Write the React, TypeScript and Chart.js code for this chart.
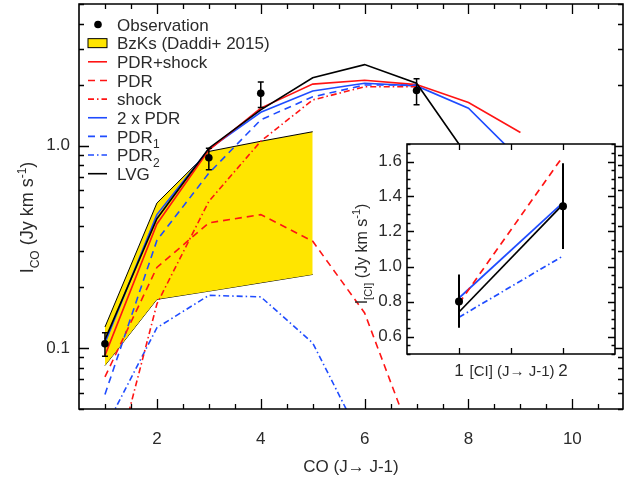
import { useEffect, useRef } from "react";
import { Chart, registerables } from "chart.js";

Chart.register(...registerables);

const FONT = '"Liberation Sans", Arial, Helvetica, sans-serif';
const TEXT = "#2b2b2b";
const RED = "#ff1414";
const BLUE = "#1f4cff";
const YELLOW = "#ffe500";
const FS = 17;

// ---------- main panel data (CO ladder) ----------
const coLevels = [1, 2, 3, 4, 5, 6, 7, 8, 9];
const obsJ = [1, 3, 4, 7];
const obsFlux = [0.105, 0.87, 1.81, 1.87];
const obsLow = [0.091, 0.76, 1.54, 1.59];
const obsHigh = [0.119, 0.97, 2.06, 2.14];

const bzkJ = [1, 2, 3, 4, 5];
const bzkUpper = [0.127, 0.52, 0.935, 1.05, 1.17];
const bzkLower = [0.082, 0.174, 0.191, 0.21, 0.231];

const pdrShockFlux = [0.092, 0.41, 0.95, 1.53, 2.01, 2.1, 2.0, 1.63, 1.16];
const pdrFlux = [0.072, 0.25, 0.415, 0.456, 0.337, 0.149, 0.031];
const shockFlux = [0.017, 0.165, 0.53, 1.05, 1.68, 1.95, 1.95];
const twoPdrFlux = [0.106, 0.456, 0.96, 1.46, 1.86, 2.03, 1.97, 1.53, 0.85];
const pdr1Flux = [0.059, 0.34, 0.73, 1.34, 1.74, 1.99, 1.99];
const pdr2Flux = [0.04, 0.126, 0.182, 0.179, 0.106, 0.033];
const lvgFlux = [0.11, 0.435, 0.97, 1.5, 2.16, 2.51, 2.03, 0.87];

const xTickLabels = [2, 4, 6, 8, 10];
const yTickLabels = [0.1, 1.0];

// ---------- inset data ([CI]) ----------
const ciLevels = [1, 2];
const ciObs = [0.8, 1.345];
const ciLow = [0.65, 1.1];
const ciHigh = [0.955, 1.59];
const ciPdr = [0.79, 1.63];
const ciTwoPdr = [0.82, 1.365];
const ciLvg = [0.74, 1.355];
const ciPdr2 = [0.71, 1.06];
const ciXTicks = [1, 2];
const ciYTicks = [0.6, 0.8, 1.0, 1.2, 1.4, 1.6];

const DASH = [7, 5];
const DASHDOT = [6, 3, 1.5, 3];

type Part = { t: string; sub?: boolean; sup?: boolean };

function drawRich(
  ctx: CanvasRenderingContext2D,
  parts: Part[],
  x: number,
  y: number,
  size: number,
  align: "left" | "center",
  rot = 0
) {
  ctx.save();
  ctx.translate(x, y);
  if (rot) ctx.rotate(rot);
  const sm = Math.round(size * 0.68);
  const widths = parts.map((p) => {
    ctx.font = `${p.sub || p.sup ? sm : size}px ${FONT}`;
    return ctx.measureText(p.t).width;
  });
  const total = widths.reduce((a, b) => a + b, 0);
  let cx = align === "center" ? -total / 2 : 0;
  ctx.fillStyle = TEXT;
  ctx.textAlign = "left";
  ctx.textBaseline = "alphabetic";
  const base = size * 0.36;
  parts.forEach((p, i) => {
    ctx.font = `${p.sub || p.sup ? sm : size}px ${FONT}`;
    const dy = p.sub ? size * 0.32 : p.sup ? -size * 0.4 : 0;
    ctx.fillText(p.t, cx, base + dy);
    cx += widths[i];
  });
  ctx.restore();
}

const pts = (xs: number[], ys: number[]) => ys.map((y, i) => ({ x: xs[i], y }));

const lineDs = (label: string, xs: number[], ys: number[], color: string, dash: number[], width = 1.6) => ({
  label,
  data: pts(xs, ys),
  borderColor: color,
  borderWidth: width,
  borderDash: dash,
  pointRadius: 0,
  fill: false,
  tension: 0,
  order: 1,
});

type LegendRow = { kind: "dot" | "box" | "line"; color?: string; dash?: number[]; label: Part[] };
const legendRows: LegendRow[] = [
  { kind: "dot", label: [{ t: "Observation" }] },
  { kind: "box", label: [{ t: "BzKs (Daddi+ 2015)" }] },
  { kind: "line", color: RED, dash: [], label: [{ t: "PDR+shock" }] },
  { kind: "line", color: RED, dash: DASH, label: [{ t: "PDR" }] },
  { kind: "line", color: RED, dash: DASHDOT, label: [{ t: "shock" }] },
  { kind: "line", color: BLUE, dash: [], label: [{ t: "2 x PDR" }] },
  { kind: "line", color: BLUE, dash: DASH, label: [{ t: "PDR" }, { t: "1", sub: true }] },
  { kind: "line", color: BLUE, dash: DASHDOT, label: [{ t: "PDR" }, { t: "2", sub: true }] },
  { kind: "line", color: "#000", dash: [], label: [{ t: "LVG" }] },
];

function drawFrameTicks(
  ctx: CanvasRenderingContext2D,
  area: { left: number; right: number; top: number; bottom: number },
  xs: { v: number; len: number }[],
  ys: { v: number; len: number }[],
  xScale: any,
  yScale: any,
  lw: number
) {
  ctx.save();
  ctx.strokeStyle = "#000";
  ctx.lineWidth = lw;
  ctx.setLineDash([]);
  ctx.beginPath();
  ctx.rect(area.left, area.top, area.right - area.left, area.bottom - area.top);
  ctx.stroke();
  ctx.lineWidth = 1.3;
  ctx.beginPath();
  xs.forEach(({ v, len }) => {
    const px = Math.round(xScale.getPixelForValue(v)) + 0.5;
    ctx.moveTo(px, area.bottom);
    ctx.lineTo(px, area.bottom - len);
    ctx.moveTo(px, area.top);
    ctx.lineTo(px, area.top + len);
  });
  ys.forEach(({ v, len }) => {
    const py = Math.round(yScale.getPixelForValue(v)) + 0.5;
    ctx.moveTo(area.left, py);
    ctx.lineTo(area.left + len, py);
    ctx.moveTo(area.right, py);
    ctx.lineTo(area.right - len, py);
  });
  ctx.stroke();
  ctx.restore();
}

const zeroPad = (s: any) => {
  s.paddingTop = 0;
  s.paddingBottom = 0;
  s.paddingLeft = 0;
  s.paddingRight = 0;
};

export default function App() {
  const mainRef = useRef<HTMLCanvasElement>(null);
  const insetRef = useRef<HTMLCanvasElement>(null);

  useEffect(() => {
    if (!mainRef.current || !insetRef.current) return;

    const mainPlugin = {
      id: "mainDeco",
      afterDatasetsDraw(chart: any) {
        const ctx: CanvasRenderingContext2D = chart.ctx;
        const xs = chart.scales.x;
        const ys = chart.scales.y;
        ctx.save();
        ctx.strokeStyle = "#000";
        ctx.lineWidth = 1.5;
        ctx.setLineDash([]);
        obsJ.forEach((j, i) => {
          const px = xs.getPixelForValue(j);
          const hi = ys.getPixelForValue(obsHigh[i]);
          const lo = ys.getPixelForValue(obsLow[i]);
          ctx.beginPath();
          ctx.moveTo(px, hi);
          ctx.lineTo(px, lo);
          ctx.moveTo(px - 3, hi);
          ctx.lineTo(px + 3, hi);
          ctx.moveTo(px - 3, lo);
          ctx.lineTo(px + 3, lo);
          ctx.stroke();
        });
        ctx.restore();
      },
      afterDraw(chart: any) {
        const ctx: CanvasRenderingContext2D = chart.ctx;
        const a = chart.chartArea;
        const xs = chart.scales.x;
        const ys = chart.scales.y;
        const xt: { v: number; len: number }[] = [];
        for (let v = 1; v <= 10.5; v += 0.5) xt.push({ v, len: v % 2 === 0 ? 10 : 5 });
        const yt: { v: number; len: number }[] = [];
        [0.01, 0.1, 1].forEach((dec) => {
          for (let m = 1; m <= 9; m++) {
            const v = dec * m;
            if (v >= 0.05 && v <= 5.0001) yt.push({ v, len: m === 1 ? 10 : 5 });
          }
        });
        drawFrameTicks(ctx, a, xt, yt, xs, ys, 1.6);

        // legend
        const lx = a.left + 9;
        const tx = a.left + 38;
        const y0 = a.top + 20.5;
        const dy = 18.65;
        legendRows.forEach((row, i) => {
          const y = y0 + i * dy;
          ctx.save();
          if (row.kind === "dot") {
            ctx.fillStyle = "#000";
            ctx.beginPath();
            ctx.arc(lx + 10, y, 3.8, 0, Math.PI * 2);
            ctx.fill();
          } else if (row.kind === "box") {
            ctx.fillStyle = YELLOW;
            ctx.strokeStyle = "#000";
            ctx.lineWidth = 1;
            ctx.fillRect(lx, y - 4.5, 19, 9);
            ctx.strokeRect(lx, y - 4.5, 19, 9);
          } else {
            ctx.strokeStyle = row.color!;
            ctx.lineWidth = 1.6;
            ctx.setLineDash(row.dash!);
            ctx.beginPath();
            ctx.moveTo(lx, y);
            ctx.lineTo(lx + 19, y);
            ctx.stroke();
          }
          ctx.restore();
          drawRich(ctx, row.label, tx, y, FS, "left");
        });

        // axis titles
        drawRich(
          ctx,
          [{ t: "I" }, { t: "CO", sub: true }, { t: " (Jy km s" }, { t: "-1", sup: true }, { t: ")" }],
          27,
          (a.top + a.bottom) / 2 + 11,
          18,
          "center",
          -Math.PI / 2
        );
        drawRich(ctx, [{ t: "CO (J\u2192 J-1)" }], (a.left + a.right) / 2, a.bottom + 57, FS, "center");
      },
    };

    const mainChart = new Chart(mainRef.current, {
      type: "line",
      data: {
        datasets: [
          {
            label: "Observation",
            data: pts(obsJ, obsFlux),
            showLine: false,
            pointRadius: 3.8,
            pointBackgroundColor: "#000",
            pointBorderColor: "#000",
            pointBorderWidth: 0,
            borderColor: "#000",
            order: 0,
          } as any,
          {
            label: "BzKs upper",
            data: pts(bzkJ, bzkUpper),
            borderColor: "#000",
            borderWidth: 1,
            backgroundColor: YELLOW,
            pointRadius: 0,
            fill: "+1",
            order: 10,
          },
          {
            label: "BzKs lower",
            data: pts(bzkJ, bzkLower),
            borderColor: "#000",
            borderWidth: 1,
            pointRadius: 0,
            fill: false,
            order: 10,
          },
          lineDs("PDR", coLevels, pdrFlux, RED, DASH),
          lineDs("shock", coLevels, shockFlux, RED, DASHDOT),
          lineDs("PDR1", coLevels, pdr1Flux, BLUE, DASH),
          lineDs("PDR2", coLevels, pdr2Flux, BLUE, DASHDOT),
          lineDs("LVG", coLevels, lvgFlux, "#000", []),
          lineDs("PDR+shock", coLevels, pdrShockFlux, RED, []),
          lineDs("2 x PDR", coLevels, twoPdrFlux, BLUE, []),
        ],
      },
      options: {
        responsive: false,
        animation: false,
        events: [],
        layout: { padding: { top: 2, left: 0, right: 0, bottom: 0 } },
        plugins: { legend: { display: false }, tooltip: { enabled: false }, title: { display: false } },
        scales: {
          x: {
            type: "linear",
            min: 0.5,
            max: 10.975,
            grid: { display: false, drawTicks: false },
            border: { display: false },
            afterBuildTicks: (s: any) => {
              s.ticks = xTickLabels.map((v) => ({ value: v }));
            },
            afterFit: (s: any) => {
              s.height = 70;
              zeroPad(s);
            },
            ticks: {
              color: TEXT,
              font: { family: FONT, size: FS },
              padding: 20,
              maxRotation: 0,
              autoSkip: false,
              callback: (v: any) => String(v),
            },
          },
          y: {
            type: "logarithmic",
            min: 0.05,
            max: 5,
            grid: { display: false, drawTicks: false },
            border: { display: false },
            afterBuildTicks: (s: any) => {
              s.ticks = yTickLabels.map((v) => ({ value: v }));
            },
            afterFit: (s: any) => {
              s.width = 79;
              zeroPad(s);
            },
            ticks: {
              color: TEXT,
              font: { family: FONT, size: FS },
              padding: 9,
              autoSkip: false,
              callback: (v: any) => Number(v).toFixed(1),
            },
          },
        },
      },
      plugins: [mainPlugin],
    } as any);

    const insetPlugin = {
      id: "insetDeco",
      beforeDatasetsDraw(chart: any) {
        const ctx: CanvasRenderingContext2D = chart.ctx;
        const a = chart.chartArea;
        ctx.save();
        ctx.fillStyle = "#fff";
        ctx.fillRect(a.left, a.top, a.right - a.left, a.bottom - a.top);
        ctx.restore();
      },
      afterDatasetsDraw(chart: any) {
        const ctx: CanvasRenderingContext2D = chart.ctx;
        const xs = chart.scales.x;
        const ys = chart.scales.y;
        ctx.save();
        ctx.strokeStyle = "#000";
        ctx.lineWidth = 2;
        ctx.setLineDash([]);
        ciLevels.forEach((j, i) => {
          const px = xs.getPixelForValue(j);
          ctx.beginPath();
          ctx.moveTo(px, ys.getPixelForValue(ciHigh[i]));
          ctx.lineTo(px, ys.getPixelForValue(ciLow[i]));
          ctx.stroke();
        });
        ctx.restore();
      },
      afterDraw(chart: any) {
        const ctx: CanvasRenderingContext2D = chart.ctx;
        const a = chart.chartArea;
        const xs = chart.scales.x;
        const ys = chart.scales.y;
        const xt = [1, 1.5, 2].map((v) => ({ v, len: 6 }));
        const yt: { v: number; len: number }[] = [];
        for (let k = 10; k <= 34; k++) {
          const v = k * 0.05;
          yt.push({ v, len: k % 4 === 0 ? 7 : 3.5 });
        }
        drawFrameTicks(ctx, a, xt, yt, xs, ys, 1.6);
        drawRich(
          ctx,
          [{ t: "I" }, { t: "[CI]", sub: true }, { t: " (Jy km s" }, { t: "-1", sup: true }, { t: ")" }],
          a.left - 46,
          (a.top + a.bottom) / 2 + 5,
          16,
          "center",
          -Math.PI / 2
        );
        drawRich(ctx, [{ t: "[CI] (J\u2192 J-1)" }], (a.left + a.right) / 2 + 1, a.bottom + 17, 15, "center");
      },
    };

    const insetChart = new Chart(insetRef.current, {
      type: "line",
      data: {
        datasets: [
          {
            label: "Observation",
            data: pts(ciLevels, ciObs),
            showLine: false,
            pointRadius: 4,
            pointBackgroundColor: "#000",
            pointBorderWidth: 0,
            order: 0,
          } as any,
          lineDs("PDR", ciLevels, ciPdr, RED, DASH, 1.7),
          lineDs("PDR2", ciLevels, ciPdr2, BLUE, DASHDOT, 1.7),
          lineDs("LVG", ciLevels, ciLvg, "#000", [], 1.7),
          lineDs("2 x PDR", ciLevels, ciTwoPdr, BLUE, [], 1.7),
        ],
      },
      options: {
        responsive: false,
        animation: false,
        events: [],
        layout: { padding: { top: 144, left: 347, right: 12, bottom: 95 } },
        plugins: { legend: { display: false }, tooltip: { enabled: false } },
        scales: {
          x: {
            type: "linear",
            min: 0.5,
            max: 2.5,
            grid: { display: false, drawTicks: false },
            border: { display: false },
            afterBuildTicks: (s: any) => {
              s.ticks = ciXTicks.map((v) => ({ value: v }));
            },
            afterFit: (s: any) => {
              s.height = 30;
              zeroPad(s);
            },
            ticks: {
              color: TEXT,
              font: { family: FONT, size: FS },
              padding: 7,
              maxRotation: 0,
              autoSkip: false,
              callback: (v: any) => String(v),
            },
          },
          y: {
            type: "linear",
            min: 0.5,
            max: 1.7,
            grid: { display: false, drawTicks: false },
            border: { display: false },
            afterBuildTicks: (s: any) => {
              s.ticks = ciYTicks.map((v) => ({ value: v }));
            },
            afterFit: (s: any) => {
              s.width = 60;
              zeroPad(s);
            },
            ticks: {
              color: TEXT,
              font: { family: FONT, size: FS },
              padding: 5,
              autoSkip: false,
              callback: (v: any) => Number(v).toFixed(1),
            },
          },
        },
      },
      plugins: [insetPlugin],
    } as any);

    return () => {
      mainChart.destroy();
      insetChart.destroy();
    };
  }, []);

  return (
    <div style={{ position: "fixed", left: 0, top: 0, width: 627, height: 479, background: "#fff" }}>
      <canvas ref={mainRef} width={627} height={479} style={{ position: "absolute", left: 0, top: 0 }} />
      <canvas ref={insetRef} width={627} height={479} style={{ position: "absolute", left: 0, top: 0 }} />
    </div>
  );
}
